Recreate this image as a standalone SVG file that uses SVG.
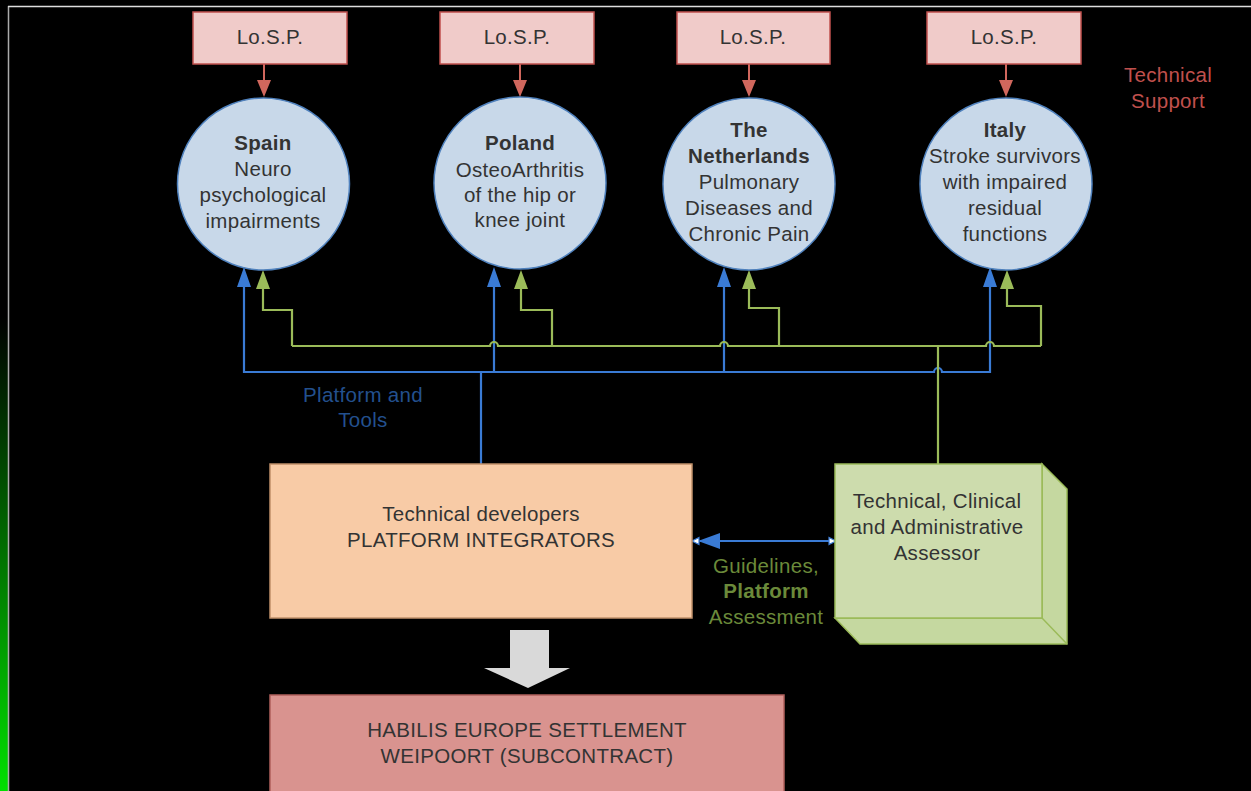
<svg xmlns="http://www.w3.org/2000/svg" width="1251" height="791" viewBox="0 0 1251 791">
<style>
text{font-family:"Liberation Sans",Arial,sans-serif;font-size:20.5px;fill:#333;text-anchor:middle;letter-spacing:0.3px}
.b{font-weight:bold}
.losp{fill:#f0cbc9;stroke:#c0504d;stroke-width:1.5}
.cty{fill:#c8d8e9;stroke:#4f81bd;stroke-width:1.5}
.bl{fill:none;stroke:#3a7bd5;stroke-width:2.2}
.gr{fill:none;stroke:#9bbb59;stroke-width:2.2}
.rd{fill:none;stroke:#d0675d;stroke-width:2}
</style>
<defs>
<linearGradient id="strip" x1="0" y1="0" x2="0" y2="1">
<stop offset="0" stop-color="#000"/>
<stop offset="0.4" stop-color="#000"/>
<stop offset="1" stop-color="#00e000"/>
</linearGradient>
<marker id="ab" markerUnits="userSpaceOnUse" markerWidth="14" markerHeight="20" refX="7" refY="0" orient="auto-start-reverse" viewBox="0 0 14 20" overflow="visible">
<path d="M0,0" />
</marker>
</defs>
<rect width="1251" height="791" fill="#000"/>
<rect x="0" y="0" width="8" height="791" fill="url(#strip)"/>
<line x1="8.5" y1="6" x2="8.5" y2="791" stroke="#aaa" stroke-width="1.5"/>
<line x1="8" y1="6.5" x2="1251" y2="6.5" stroke="#ddd" stroke-width="1.5"/>

<g id="connectors">
<!-- red -->
<path class="rd" d="M264,64V82M520,64V82M749,64V82M1006,64V82"/>
<path fill="#d0675d" d="M257,80H271L264,97ZM513,80H527L520,97ZM742,80H756L749,97ZM999,80H1013L1006,97Z"/>
<!-- blue -->
<path class="bl" d="M481,464V372M244,286V372H934a4,4 0 0 1 8,0H990V286M494,372V286M724,372V286"/>
<path fill="#3a7bd5" d="M237,287H251L244,267ZM487,287H501L494,267ZM717,287H731L724,267ZM983,287H997L990,267Z"/>
<!-- green -->
<path class="gr" d="M938,464V346M292,346V310H263V288M552,346V310H521V288M779,346V308H749V288M1041,346V306H1007V288M292,346H490a4,4 0 0 1 8,0H720a4,4 0 0 1 8,0H986a4,4 0 0 1 8,0H1041"/>
<path fill="#9bbb59" d="M256,289H270L263,270ZM514,289H528L521,270ZM742,289H756L749,270ZM1000,289H1014L1007,270Z"/>
<!-- double arrow -->
<path class="bl" d="M700,541H830"/>
<path fill="#3a7bd5" d="M698,541L720,533V549Z"/>
<path fill="#fff" stroke="#3a7bd5" stroke-width="1.2" d="M692,541L699,537.5V544.5Z"/>
<path fill="#fff" stroke="#3a7bd5" stroke-width="1.2" d="M836,541L829,537.5V544.5Z"/>
</g>

<g id="losp1"><rect class="losp" x="193" y="12" width="154" height="52"/><text x="270" y="44">Lo.S.P.</text></g>
<g id="losp2"><rect class="losp" x="440" y="12" width="154" height="52"/><text x="517" y="44">Lo.S.P.</text></g>
<g id="losp3"><rect class="losp" x="677" y="12" width="153" height="52"/><text x="753" y="44">Lo.S.P.</text></g>
<g id="losp4"><rect class="losp" x="927" y="12" width="154" height="52"/><text x="1004" y="44">Lo.S.P.</text></g>

<g id="spain"><circle class="cty" cx="263.5" cy="184" r="86"/>
<text x="263" y="150" class="b">Spain</text><text x="263" y="176">Neuro</text><text x="263" y="202">psychological</text><text x="263" y="228">impairments</text></g>
<g id="poland"><circle class="cty" cx="520" cy="183" r="86"/>
<text x="520" y="150" class="b">Poland</text><text x="520" y="177">OsteoArthritis</text><text x="520" y="202">of the hip or</text><text x="520" y="227">knee joint</text></g>
<g id="netherlands"><circle class="cty" cx="749" cy="184" r="86"/>
<text x="749" y="137" class="b">The</text><text x="749" y="163" class="b">Netherlands</text><text x="749" y="189">Pulmonary</text><text x="749" y="215">Diseases and</text><text x="749" y="241">Chronic Pain</text></g>
<g id="italy"><circle class="cty" cx="1006" cy="184" r="86"/>
<text x="1005" y="137" class="b">Italy</text><text x="1005" y="163">Stroke survivors</text><text x="1005" y="189">with impaired</text><text x="1005" y="215">residual</text><text x="1005" y="241">functions</text></g>

<g id="technical-support"><text x="1168" y="82" style="fill:#c0504d">Technical</text><text x="1168" y="108" style="fill:#c0504d">Support</text></g>
<g id="platform-tools-label"><text x="363" y="402" style="fill:#23508e">Platform and</text><text x="363" y="427" style="fill:#23508e">Tools</text></g>

<g id="integrators"><rect x="270" y="464" width="422" height="154" fill="#f8cba6" stroke="#c0906a" stroke-width="1.5"/>
<text x="481" y="521">Technical developers</text><text x="481" y="547">PLATFORM INTEGRATORS</text></g>

<g id="assessor">
<path d="M1042,464L1067,489V644H860L835,618H1042Z" fill="#c5d8a0" stroke="#9bbb59" stroke-width="1.5"/>
<path d="M1042,464V618L1067,644M1042,618H835" fill="none" stroke="#9bbb59" stroke-width="1.5"/>
<rect x="835" y="464" width="207" height="154" fill="#cddcad" stroke="#9bbb59" stroke-width="1.5"/>
<text x="937" y="508">Technical, Clinical</text><text x="937" y="534">and Administrative</text><text x="937" y="560">Assessor</text></g>

<g id="guidelines-label"><text x="766" y="573" style="fill:#6b8a3a">Guidelines,</text><text x="766" y="598" class="b" style="fill:#6b8a3a">Platform</text><text x="766" y="624" style="fill:#6b8a3a">Assessment</text></g>

<g id="big-arrow"><path d="M510,630H549V668H570L528,688L484,668H510Z" fill="#d9d9d9"/></g>

<g id="habilis"><rect x="270" y="695" width="514" height="110" fill="#d9938f" stroke="#b0605c" stroke-width="1.5"/>
<text x="527" y="737">HABILIS EUROPE SETTLEMENT</text><text x="527" y="763">WEIPOORT (SUBCONTRACT)</text></g>
</svg>
